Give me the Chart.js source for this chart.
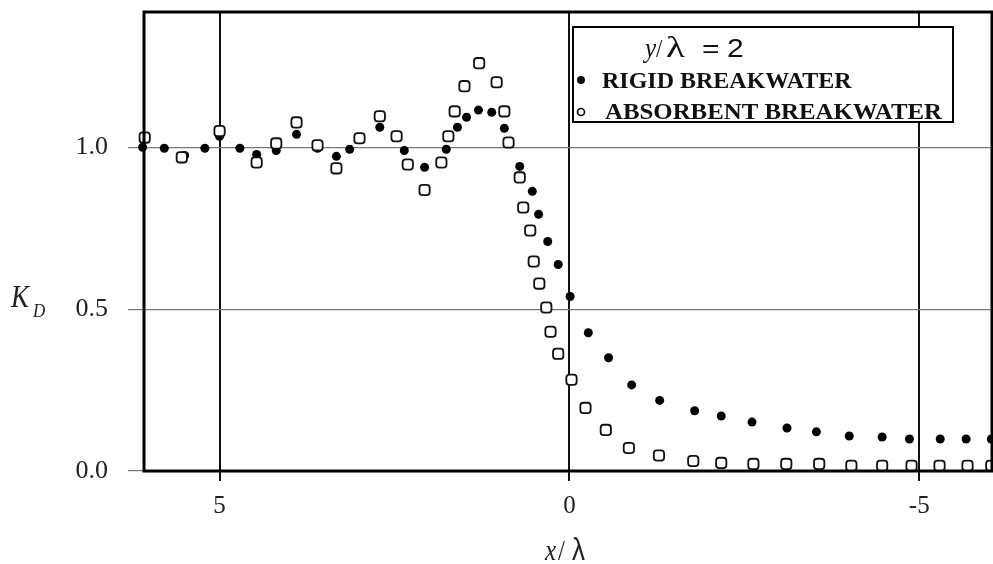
<!DOCTYPE html>
<html lang="en">
<head>
  <meta charset="UTF-8" />
  <title>K_D versus x/lambda</title>
  <script src="https://cdn.jsdelivr.net/npm/chart.js"></script>
  <style>
    body {
      margin: 0;
      background-color: #fff;
    }
    #kdChart {
      display: block;
    }
  </style>
</head>
<body>
  <canvas id="kdChart" width="993" height="564"></canvas>

  <script>
    // Rigid breakwater (filled circles)
    const rigidX = [6.1, 5.79, 5.5, 5.21, 5.0, 4.71, 4.47, 4.19, 3.9, 3.6, 3.33, 3.14, 2.71, 2.36, 2.07,
      1.76, 1.6, 1.47, 1.3, 1.11, 0.93, 0.71, 0.53, 0.44, 0.31, 0.16, -0.01, -0.27, -0.56, -0.89,
      -1.29, -1.79, -2.17, -2.61, -3.11, -3.53, -4.0, -4.47, -4.86, -5.3, -5.67, -6.03];
    const rigidKd = [1.0, 0.997, 0.975, 0.997, 1.034, 0.997, 0.978, 0.99, 1.04, 0.997, 0.972, 0.994, 1.062, 0.99, 0.938,
      0.994, 1.062, 1.093, 1.115, 1.108, 1.059, 0.941, 0.864, 0.793, 0.709, 0.638, 0.539, 0.427, 0.35, 0.266,
      0.218, 0.186, 0.17, 0.151, 0.133, 0.121, 0.108, 0.105, 0.099, 0.099, 0.099, 0.099];

    // Absorbent breakwater (open symbols)
    const absorbX = [6.07, 5.54, 5.0, 4.47, 4.19, 3.9, 3.6, 3.33, 3.0, 2.71, 2.47, 2.31, 2.07, 1.83, 1.73,
      1.64, 1.5, 1.29, 1.04, 0.93, 0.87, 0.71, 0.66, 0.56, 0.51, 0.43, 0.33, 0.27, 0.16, -0.03,
      -0.23, -0.52, -0.85, -1.28, -1.77, -2.17, -2.63, -3.1, -3.57, -4.03, -4.47, -4.89, -5.29, -5.69, -6.03];
    const absorbKd = [1.03, 0.969, 1.05, 0.953, 1.012, 1.077, 1.006, 0.935, 1.028, 1.096, 1.034, 0.947, 0.868, 0.953, 1.034,
      1.111, 1.189, 1.26, 1.201, 1.111, 1.015, 0.907, 0.814, 0.743, 0.647, 0.579, 0.505, 0.43, 0.362, 0.282,
      0.195, 0.127, 0.071, 0.048, 0.031, 0.025, 0.022, 0.022, 0.022, 0.016, 0.016, 0.016, 0.016, 0.016, 0.016];

    const xTicks = [5, 0, -5];
    const yTicks = [0, 0.5, 1.0];
    const legendLabels = ['RIGID BREAKWATER', 'ABSORBENT BREAKWATER'];

    const SERIF = '"Liberation Serif", "DejaVu Serif", serif';
    const SANS = '"Liberation Sans", Arial, sans-serif';

    function toPoints(xs, ys) {
      return xs.map((x, i) => ({ x: x, y: ys[i] }));
    }

    // texte étiré comme dans la figure d'origine
    function stretchText(ctx, txt, x, y, sx, sy) {
      ctx.save();
      ctx.translate(x, y);
      ctx.scale(sx, sy);
      ctx.fillText(txt, 0, 0);
      ctx.restore();
      return ctx.measureText(txt).width * sx;
    }

    // cadre, légende et titres d'axes
    const decorPlugin = {
      id: 'decor',
      afterDatasetsDraw(chart) {
        const ctx = chart.ctx;
        const a = chart.chartArea;
        ctx.save();

        // cadre épais
        ctx.strokeStyle = '#000';
        ctx.lineWidth = 3;
        ctx.strokeRect(a.left, a.top, a.right - a.left, a.bottom - a.top);

        // boîte de légende
        const bx = 573, by = 27, bw = 380, bh = 95;
        ctx.fillStyle = '#fff';
        ctx.fillRect(bx, by, bw, bh);
        ctx.lineWidth = 2;
        ctx.strokeRect(bx, by, bw, bh);

        ctx.fillStyle = '#111';
        ctx.textBaseline = 'alphabetic';
        ctx.textAlign = 'left';
        ctx.font = 'italic 25px ' + SERIF;
        stretchText(ctx, 'y', 645, 57, 1, 1.1);
        ctx.font = '23px ' + SERIF;
        stretchText(ctx, '/', 656, 57, 1, 1.1);
        ctx.font = '30px ' + SERIF;
        stretchText(ctx, '\u03bb', 666, 57, 1.3, 0.95);
        ctx.font = '25px ' + SANS;
        stretchText(ctx, '=', 702, 57, 1.2, 1.0);
        stretchText(ctx, '2', 727, 57, 1.2, 1.0);

        ctx.font = 'bold 24px ' + SERIF;
        stretchText(ctx, legendLabels[0], 602, 88, 1, 0.95);
        stretchText(ctx, legendLabels[1], 605, 119, 1.035, 0.95);

        ctx.beginPath();
        ctx.arc(581, 80, 4, 0, Math.PI * 2);
        ctx.fill();
        ctx.beginPath();
        ctx.lineWidth = 1.6;
        ctx.arc(581, 112, 3.5, 0, Math.PI * 2);
        ctx.stroke();

        // titres des axes
        ctx.fillStyle = '#222';
        ctx.font = 'italic 27px ' + SERIF;
        stretchText(ctx, 'K', 11, 307, 1, 1.15);
        ctx.font = 'italic 17px ' + SERIF;
        stretchText(ctx, 'D', 33, 317, 1, 1.15);

        ctx.font = 'italic 25px ' + SERIF;
        const wx = stretchText(ctx, 'x', 545, 560, 1, 1.2);
        ctx.font = '25px ' + SERIF;
        stretchText(ctx, '/', 545 + wx + 2, 560, 1, 1.2);
        ctx.font = '26px ' + SANS;
        stretchText(ctx, '\u03bb', 572, 560, 1, 1.2);

        ctx.restore();
      }
    };

    const ctx = document.getElementById('kdChart').getContext('2d');
    new Chart(ctx, {
      type: 'scatter',
      data: {
        datasets: [
          {
            label: legendLabels[0],
            data: toPoints(rigidX, rigidKd),
            pointStyle: 'circle',
            pointRadius: 4.5,
            pointBackgroundColor: '#000',
            pointBorderColor: '#000',
            pointBorderWidth: 0,
            showLine: false,
            clip: false,
            order: 2
          },
          {
            label: legendLabels[1],
            data: toPoints(absorbX, absorbKd),
            pointStyle: 'rectRounded',
            pointRadius: 6,
            pointBackgroundColor: '#fff',
            pointBorderColor: '#111',
            pointBorderWidth: 1.8,
            showLine: false,
            clip: false,
            order: 1
          }
        ]
      },
      options: {
        responsive: false,
        devicePixelRatio: 1,
        animation: false,
        layout: {
          autoPadding: false,
          padding: { top: 12, right: 1, left: 0, bottom: 0 }
        },
        scales: {
          x: {
            type: 'linear',
            reverse: true,
            min: -6.04,
            max: 6.08,
            afterFit: s => {
              s.height = 93;
              s.paddingLeft = 0;
              s.paddingRight = 0;
            },
            afterBuildTicks: s => { s.ticks = xTicks.map(v => ({ value: v })); },
            border: { display: false },
            grid: {
              color: '#111',
              lineWidth: 2,
              tickLength: 10
            },
            ticks: {
              color: '#222',
              padding: 10,
              font: { family: SERIF, size: 25 },
              callback: v => String(v)
            }
          },
          y: {
            min: 0,
            max: 1.418,
            afterFit: s => {
              s.width = 144;
              s.paddingTop = 0;
              s.paddingBottom = 0;
            },
            afterBuildTicks: s => { s.ticks = yTicks.map(v => ({ value: v })); },
            border: { display: false },
            grid: {
              color: '#777',
              lineWidth: 1.2,
              tickLength: 16
            },
            ticks: {
              color: '#222',
              padding: 20,
              font: { family: SERIF, size: 26 },
              callback: v => v.toFixed(1)
            }
          }
        },
        plugins: {
          legend: { display: false },
          tooltip: { enabled: false }
        }
      },
      plugins: [decorPlugin]
    });
  </script>
</body>
</html>
